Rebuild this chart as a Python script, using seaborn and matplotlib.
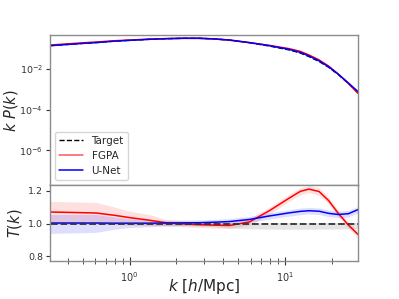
import numpy as np
import pandas as pd
import matplotlib
matplotlib.use("Agg")
import matplotlib.pyplot as plt
import seaborn as sns

# ---- data ----
k = [0.31, 0.4, 0.5, 0.61, 0.8, 1.0, 1.34, 1.7, 2.2, 2.8, 3.5, 4.4, 5.9,
     7.9, 10.6, 12.5, 14.2, 16.5, 19.0, 22.0, 25.5, 29.4]

kP_target = [0.138, 0.158, 0.178, 0.195, 0.229, 0.251, 0.282, 0.302, 0.316,
             0.316, 0.295, 0.257, 0.190, 0.132, 0.085, 0.060, 0.040, 0.023,
             0.012, 0.0051, 0.0019, 0.0007]
kP_fgpa = [0.148, 0.169, 0.190, 0.208, 0.240, 0.260, 0.288, 0.303, 0.315,
           0.314, 0.292, 0.254, 0.192, 0.142, 0.098, 0.072, 0.048, 0.0275,
           0.0137, 0.0054, 0.0019, 0.00062]
kP_unet = [0.138, 0.158, 0.178, 0.195, 0.229, 0.251, 0.282, 0.303, 0.317,
           0.317, 0.297, 0.260, 0.195, 0.138, 0.0905, 0.0643, 0.0431, 0.0247,
           0.01274, 0.00538, 0.00201, 0.00076]

T_fgpa = [1.070, 1.068, 1.066, 1.064, 1.050, 1.036, 1.020, 1.005, 0.998,
          0.993, 0.990, 0.988, 1.010, 1.078, 1.155, 1.196, 1.210, 1.195,
          1.140, 1.060, 0.990, 0.933]
T_fgpa_lo = [1.005, 1.003, 1.001, 0.999, 0.995, 0.990, 0.990, 0.985, 0.980,
             0.975, 0.972, 0.970, 0.990, 1.055, 1.135, 1.175, 1.188, 1.172,
             1.118, 1.040, 0.970, 0.913]
T_fgpa_hi = [1.135, 1.133, 1.131, 1.129, 1.100, 1.075, 1.055, 1.025, 1.016,
             1.011, 1.008, 1.006, 1.030, 1.100, 1.178, 1.218, 1.232, 1.218,
             1.162, 1.080, 1.010, 0.953]

T_unet = [1.003, 1.003, 1.003, 1.003, 1.002, 1.002, 1.002, 1.003, 1.004,
          1.005, 1.008, 1.012, 1.025, 1.046, 1.065, 1.074, 1.078, 1.075,
          1.062, 1.055, 1.060, 1.085]
T_unet_lo = [0.940, 0.942, 0.944, 0.946, 0.965, 0.975, 0.980, 0.985, 0.987,
             0.988, 0.990, 0.994, 1.006, 1.027, 1.045, 1.054, 1.058, 1.055,
             1.042, 1.035, 1.040, 1.065]
T_unet_hi = [1.055, 1.055, 1.055, 1.055, 1.040, 1.030, 1.022, 1.020, 1.021,
             1.022, 1.025, 1.030, 1.044, 1.065, 1.085, 1.094, 1.098, 1.095,
             1.082, 1.075, 1.080, 1.105]

T_target = [1.0] * len(k)
T_target_lo = [0.995, 0.995, 0.995, 0.995, 0.994, 0.993, 0.992, 0.990, 0.988,
               0.985, 0.980, 0.972, 0.968, 0.966, 0.965, 0.965, 0.965, 0.966,
               0.966, 0.967, 0.968, 0.970]
T_target_hi = [1.005, 1.005, 1.005, 1.005, 1.005, 1.005, 1.005, 1.005, 1.005,
               1.005, 1.005, 1.006, 1.006, 1.006, 1.006, 1.006, 1.006, 1.006,
               1.006, 1.006, 1.006, 1.006]

labels = ["Target", "FGPA", "U-Net"]

# ---- style ----
sns.set_style("ticks")
plt.rcParams.update({
    "font.family": ["DejaVu Sans"],
    "axes.edgecolor": "#8c8c8c",
    "axes.linewidth": 1.0,
    "xtick.color": "#333333",
    "ytick.color": "#333333",
    "xtick.labelsize": 7,
    "ytick.labelsize": 6.8,
    "mathtext.fontset": "dejavusans",
})

fig = plt.figure(figsize=(3.99, 2.99), dpi=100)
gs = fig.add_gridspec(2, 1, height_ratios=[2, 1], hspace=0,
                      left=0.125, right=0.8975, top=0.883, bottom=0.128)
ax1 = fig.add_subplot(gs[0])
ax2 = fig.add_subplot(gs[1], sharex=ax1)

df_top = pd.DataFrame({"k": k * 3,
                       "kP": kP_target + kP_fgpa + kP_unet,
                       "model": [labels[0]] * len(k) + [labels[1]] * len(k) + [labels[2]] * len(k)})

sns.lineplot(data=df_top[df_top.model == "Target"], x="k", y="kP", ax=ax1,
             color="black", linestyle="--", lw=1.0, label="Target")
sns.lineplot(data=df_top[df_top.model == "FGPA"], x="k", y="kP", ax=ax1,
             color="red", lw=1.1, label="FGPA")
sns.lineplot(data=df_top[df_top.model == "U-Net"], x="k", y="kP", ax=ax1,
             color="blue", lw=1.1, label="U-Net")

ax1.set_xscale("log")
ax1.set_yscale("log")
ax1.set_xlim(0.307, 29.4)
ax1.set_ylim(1.9e-8, 0.46)
ax1.set_yticks([1e-6, 1e-4, 1e-2])
ax1.yaxis.set_minor_locator(matplotlib.ticker.NullLocator())
ax1.set_ylabel(r"$k\ P(k)$", fontsize=10.5)
ax1.yaxis.set_label_coords(-0.098, 0.5)
ax1.set_xlabel("")
ax1.tick_params(axis="x", which="both", labelbottom=False, direction="out", color="#333333")
ax1.tick_params(axis="x", which="major", length=5)
ax1.tick_params(axis="x", which="minor", length=3)
ax1.tick_params(axis="y", length=3, pad=2, color="#333333")

leg = ax1.legend(loc="lower left", fontsize=7.5, frameon=True, handlelength=2.3)
leg.get_frame().set_edgecolor("#cccccc")
leg.get_lines()[1].set_alpha(0.65)

# ---- ratio panel ----
ax2.fill_between(k, T_fgpa_lo, T_fgpa_hi, color="red", alpha=0.12, lw=0)
ax2.fill_between(k, T_unet_lo, T_unet_hi, color="blue", alpha=0.13, lw=0)
ax2.fill_between(k, T_target_lo, T_target_hi, color="gray", alpha=0.2, lw=0)
sns.lineplot(x=k, y=T_fgpa, ax=ax2, color="red", lw=1.1)
sns.lineplot(x=k, y=T_unet, ax=ax2, color="blue", lw=1.1)
sns.lineplot(x=k, y=T_target, ax=ax2, color="#333333", linestyle="--", lw=1.3)

ax2.set_xscale("log")
ax2.set_xlim(0.307, 29.4)
ax2.set_ylim(0.773, 1.232)
ax2.set_yticks([0.8, 1.0, 1.2])
ax2.set_ylabel(r"$T(k)$", fontsize=10.5)
ax2.yaxis.set_label_coords(-0.085, 0.5)
ax2.set_xlabel(r"$k\ [h/\mathrm{Mpc}]$", fontsize=11)
ax2.xaxis.set_label_coords(0.5, -0.22)
ax2.tick_params(axis="x", which="both", direction="inout", color="#333333")
ax2.tick_params(axis="x", which="major", length=6)
ax2.tick_params(axis="x", which="minor", length=4)
ax2.tick_params(axis="y", length=3, pad=2, color="#333333")

for ax in (ax1, ax2):
    for s in ax.spines.values():
        s.set_visible(True)

fig.savefig("out.png", dpi=100)
